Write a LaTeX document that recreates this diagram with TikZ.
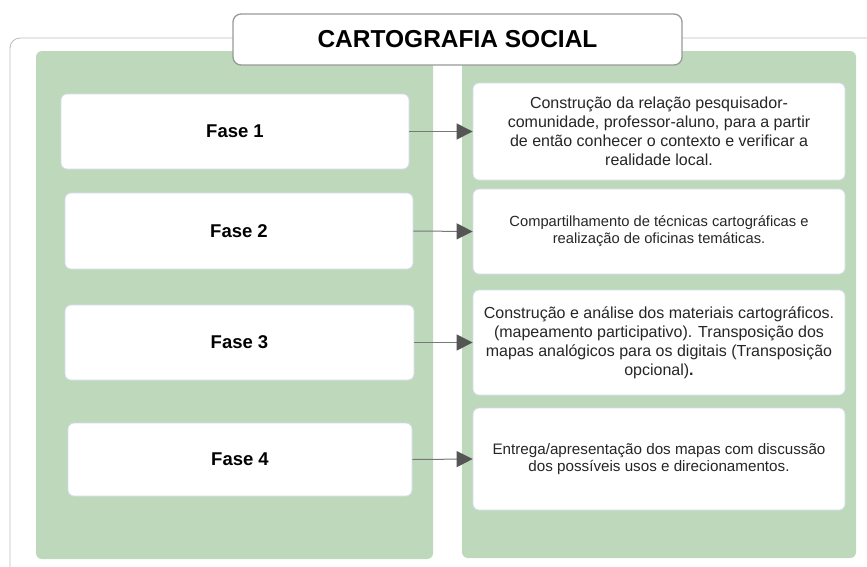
\documentclass[tikz,border=0pt]{standalone}
\usepackage{fontspec}
\setmainfont{Liberation Sans}
\usetikzlibrary{arrows.meta}
\definecolor{painelverde}{RGB}{189,216,187}
\definecolor{bordacaixa}{RGB}{212,220,236}
\definecolor{setacinza}{RGB}{85,85,85}
\definecolor{linhacinza}{RGB}{120,120,120}
\definecolor{moldura}{RGB}{190,190,190}

\begin{document}
\begin{tikzpicture}[x=1pt,y=-1pt,>={Triangle[length=16pt,width=16pt,color=setacinza]},
        fase/.style={draw=bordacaixa,line width=0.8pt,fill=white,rounded corners=6pt,font=\bfseries\fontsize{18.5}{22}\selectfont},
        texto/.style={draw=bordacaixa,line width=0.8pt,fill=white,rounded corners=6pt,minimum width=372pt,align=center,text=black!85}]
                \useasboundingbox (0,0) rectangle (867,566);
                % moldura e paineis
                \draw[moldura,line width=0.9pt,rounded corners=10pt] (10,570) -- (10,38) -- (870,38);
                \fill[painelverde,rounded corners=6pt] (36,51) rectangle (433,559);
                \fill[painelverde,rounded corners=6pt] (462,51) rectangle (856,558);
                \node[draw=gray!80,line width=1.3pt,fill=white,rounded corners=8pt,minimum width=449pt,minimum height=51pt,font=\bfseries\fontsize{24.5}{28}\selectfont] (titulo) at (457.5,39.5) {CARTOGRAFIA SOCIAL};
                % fases
                \node[fase,minimum width=348pt,minimum height=75pt] (f1) at (235,131.5) {Fase 1};
                \node[fase,minimum width=348pt,minimum height=76pt] (f2) at (239,231) {Fase 2};
                \node[fase,minimum width=349pt,minimum height=75pt] (f3) at (239.5,342.5) {Fase 3};
                \node[fase,minimum width=344pt,minimum height=73pt] (f4) at (240,459.5) {Fase 4};
                % descricoes
                \node[texto,minimum height=97pt,font=\fontsize{16}{19}\selectfont] (d1) at (659,131.5) {Construção da relação pesquisador-\\comunidade, professor-aluno, para a partir\\de então conhecer o contexto e verificar a\\realidade local.};
                \node[texto,minimum height=85pt,font=\fontsize{14.7}{17}\selectfont] (d2) at (659,231.5) {Compartilhamento de técnicas cartográficas e\\realização de oficinas temáticas.};
                \node[texto,minimum height=105pt,font=\fontsize{16}{19}\selectfont] (d3) at (659,342.5) {Construção e análise dos materiais cartográficos.\\(mapeamento participativo). Transposição dos\\mapas analógicos para os digitais (Transposição\\opcional)\textbf{.}};
                \node[texto,minimum height=102pt,font=\fontsize{15.2}{17.5}\selectfont] (d4) at (659,459) {Entrega/apresentação dos mapas com discussão\\dos possíveis usos e direcionamentos.};
                % setas
                \draw[->,linhacinza,line width=1pt] (f1.east) -- (d1.west);
                \draw[->,linhacinza,line width=1pt] (f2.east) -- (d2.west);
                \draw[->,linhacinza,line width=1pt] (f3.east) -- (d3.west);
                \draw[->,linhacinza,line width=1pt] (f4.east) -- (d4.west);
            \end{tikzpicture}
\end{document}
